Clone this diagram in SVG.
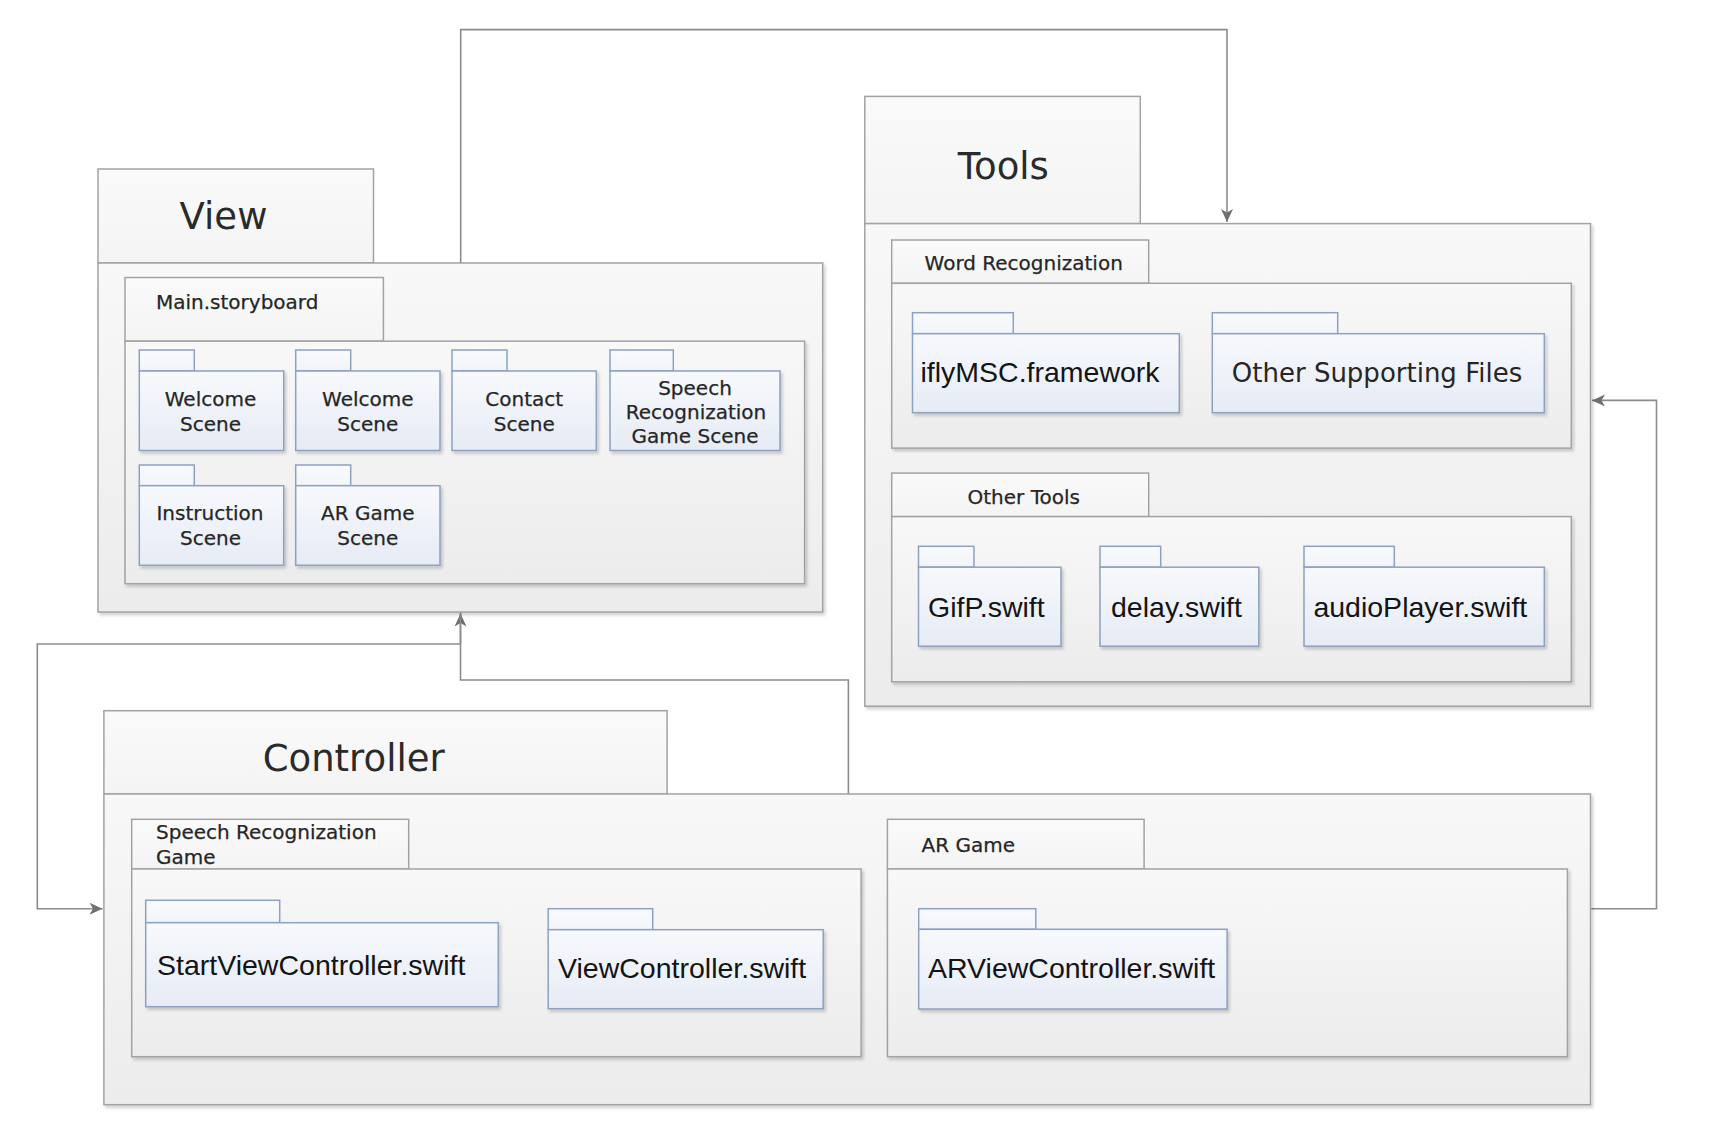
<svg xmlns="http://www.w3.org/2000/svg" width="1712" height="1142" viewBox="0 0 1712 1142">
<style>
.tab{fill:url(#gTab);stroke:#a3a3a3;stroke-width:1.5}
.body{fill:url(#gBody);stroke:#a3a3a3;stroke-width:1.5}
.ftab{fill:url(#gFileTab);stroke:#8da1c1;stroke-width:1.5}
.fbody{fill:url(#gFile);stroke:#8da1c1;stroke-width:1.5}
.title{font-family:"DejaVu Sans","Liberation Sans",sans-serif;font-size:37px;fill:#2a2a2a;text-anchor:middle}
.lbl{font-family:"DejaVu Sans","Liberation Sans",sans-serif;font-size:20px;fill:#262626;stroke:#262626;stroke-width:0.25}
.c{text-anchor:middle}
.fname{font-family:"Liberation Sans",Arial,sans-serif;font-size:28.5px;fill:#141414}
.lfname{font-family:"DejaVu Sans","Liberation Sans",sans-serif;font-size:26px;fill:#262626;text-anchor:middle}
.conn{fill:none;stroke:#8c8c8c;stroke-width:1.6}
</style>
<defs>
<linearGradient id="gBody" x1="0" y1="0" x2="0" y2="1"><stop offset="0" stop-color="#f8f8f8"/><stop offset="1" stop-color="#ececec"/></linearGradient>
<linearGradient id="gTab" x1="0" y1="0" x2="0" y2="1"><stop offset="0" stop-color="#fafafa"/><stop offset="1" stop-color="#f4f4f4"/></linearGradient>
<linearGradient id="gFile" x1="0" y1="0" x2="0" y2="1"><stop offset="0" stop-color="#f7f9fc"/><stop offset="1" stop-color="#e6ebf5"/></linearGradient>
<linearGradient id="gFileTab" x1="0" y1="0" x2="0" y2="1"><stop offset="0" stop-color="#f9fafd"/><stop offset="1" stop-color="#f1f4f9"/></linearGradient>
<filter id="sh" x="-5%" y="-5%" width="110%" height="115%"><feDropShadow dx="2" dy="2.5" stdDeviation="1.5" flood-color="#000" flood-opacity="0.18"/></filter>
<marker id="arr" markerUnits="userSpaceOnUse" markerWidth="14" markerHeight="12" refX="13" refY="6" orient="auto"><path d="M0,0 L13,6 L0,12 L3.5,6 Z" fill="#707070"/></marker>
</defs>
<rect width="1712" height="1142" fill="#fff"/>

<g id="connectors">
<path class="conn" d="M460.7,263 V29.6 H1227 V222" marker-end="url(#arr)"/>
<path class="conn" d="M1590.5,908.7 H1656.5 V400.4 H1592" marker-end="url(#arr)"/>
<path class="conn" d="M848.4,794 V680 H460.5 V613.5" marker-end="url(#arr)"/>
<path class="conn" d="M460.5,612 V644 H37.3 V908.7 H102.5" marker-end="url(#arr)"/>
</g>

<g id="view">
<rect class="tab" x="98" y="169" width="275.5" height="94"/>
<rect class="body" x="98" y="263" width="724.7" height="349" filter="url(#sh)"/>
<text class="title" x="223.5" y="229">View</text>
<g id="main-storyboard">
<rect class="tab" x="125" y="277.5" width="258.4" height="63.7"/>
<rect class="body" x="125" y="341.2" width="679.6" height="242.5" filter="url(#sh)"/>
<text class="lbl" x="156" y="309">Main.storyboard</text>
<g id="welcome-scene-1">
<rect class="ftab" x="139.3" y="350" width="55" height="21"/>
<rect class="fbody" x="139.3" y="371" width="144.4" height="79.5" filter="url(#sh)"/>
<text class="lbl c" x="210.5" y="405.5">Welcome</text><text class="lbl c" x="210.5" y="430.5">Scene</text>
</g>
<g id="welcome-scene-2">
<rect class="ftab" x="295.7" y="350" width="55" height="21"/>
<rect class="fbody" x="295.7" y="371" width="144.3" height="79.5" filter="url(#sh)"/>
<text class="lbl c" x="367.8" y="405.5">Welcome</text><text class="lbl c" x="367.8" y="430.5">Scene</text>
</g>
<g id="contact-scene">
<rect class="ftab" x="452" y="350" width="55" height="21"/>
<rect class="fbody" x="452" y="371" width="144.3" height="79.5" filter="url(#sh)"/>
<text class="lbl c" x="524.2" y="405.5">Contact</text><text class="lbl c" x="524.2" y="430.5">Scene</text>
</g>
<g id="speech-game-scene">
<rect class="ftab" x="610" y="350" width="63.3" height="21"/>
<rect class="fbody" x="610" y="371" width="170" height="79.5" filter="url(#sh)"/>
<text class="lbl c" x="695" y="395">Speech</text><text class="lbl c" x="696" y="419">Recognization</text><text class="lbl c" x="695" y="442.5">Game Scene</text>
</g>
<g id="instruction-scene">
<rect class="ftab" x="139.3" y="465" width="55" height="20.7"/>
<rect class="fbody" x="139.3" y="485.7" width="144.4" height="79.6" filter="url(#sh)"/>
<text class="lbl c" x="210" y="520">Instruction</text><text class="lbl c" x="210.5" y="544.5">Scene</text>
</g>
<g id="ar-game-scene">
<rect class="ftab" x="295.7" y="465" width="55" height="20.7"/>
<rect class="fbody" x="295.7" y="485.7" width="144.3" height="79.6" filter="url(#sh)"/>
<text class="lbl c" x="367.8" y="520">AR Game</text><text class="lbl c" x="367.8" y="544.5">Scene</text>
</g>
</g>
</g>

<g id="tools">
<rect class="tab" x="864.8" y="96.4" width="275.5" height="127.2"/>
<rect class="body" x="864.8" y="223.6" width="725.7" height="482.6" filter="url(#sh)"/>
<text class="title" x="1003.3" y="179.3">Tools</text>
<g id="word-recognization">
<rect class="tab" x="891.7" y="240" width="257" height="43.3"/>
<rect class="body" x="891.7" y="283.3" width="679.6" height="164.8" filter="url(#sh)"/>
<text class="lbl c" x="1023.7" y="269.5">Word Recognization</text>
<g id="iflymsc-framework">
<rect class="ftab" x="912.5" y="312.7" width="100.8" height="21"/>
<rect class="fbody" x="912.5" y="333.7" width="266.8" height="79" filter="url(#sh)"/>
<text class="fname" x="920.5" y="381.7">iflyMSC.framework</text>
</g>
<g id="other-supporting-files">
<rect class="ftab" x="1212.3" y="312.7" width="125.4" height="21"/>
<rect class="fbody" x="1212.3" y="333.7" width="332" height="79" filter="url(#sh)"/>
<text class="lfname" x="1377" y="381.7">Other Supporting Files</text>
</g>
</g>
<g id="other-tools">
<rect class="tab" x="891.7" y="473.1" width="257" height="43.5"/>
<rect class="body" x="891.7" y="516.6" width="679.6" height="165.2" filter="url(#sh)"/>
<text class="lbl c" x="1023.7" y="503.5">Other Tools</text>
<g id="gifp-swift">
<rect class="ftab" x="918.5" y="546.3" width="55.5" height="20.9"/>
<rect class="fbody" x="918.5" y="567.2" width="142.5" height="79" filter="url(#sh)"/>
<text class="fname" x="928" y="616.5">GifP.swift</text>
</g>
<g id="delay-swift">
<rect class="ftab" x="1100" y="546.3" width="60.7" height="20.9"/>
<rect class="fbody" x="1100" y="567.2" width="158.8" height="79" filter="url(#sh)"/>
<text class="fname" x="1111" y="616.5">delay.swift</text>
</g>
<g id="audioplayer-swift">
<rect class="ftab" x="1304" y="546.3" width="90.3" height="20.9"/>
<rect class="fbody" x="1304" y="567.2" width="240.3" height="79" filter="url(#sh)"/>
<text class="fname" x="1313.4" y="616.5">audioPlayer.swift</text>
</g>
</g>
</g>

<g id="controller">
<rect class="tab" x="103.9" y="710.7" width="563.2" height="83.3"/>
<rect class="body" x="103.9" y="794" width="1486.6" height="310.7" filter="url(#sh)"/>
<text class="title" x="353.7" y="770.7">Controller</text>
<g id="speech-recognization-game">
<rect class="tab" x="131.7" y="819.3" width="277" height="49.7"/>
<rect class="body" x="131.7" y="869" width="729.4" height="187.7" filter="url(#sh)"/>
<text class="lbl" x="156" y="839">Speech Recognization</text>
<text class="lbl" x="156" y="864">Game</text>
<g id="startviewcontroller-swift">
<rect class="ftab" x="145.7" y="900.3" width="134" height="22.4"/>
<rect class="fbody" x="145.7" y="922.7" width="352.6" height="84" filter="url(#sh)"/>
<text class="fname" x="157" y="975">StartViewController.swift</text>
</g>
<g id="viewcontroller-swift">
<rect class="ftab" x="548.2" y="908.7" width="104.5" height="21"/>
<rect class="fbody" x="548.2" y="929.7" width="275" height="79" filter="url(#sh)"/>
<text class="fname" x="558" y="978">ViewController.swift</text>
</g>
</g>
<g id="ar-game">
<rect class="tab" x="887.4" y="819.3" width="256.7" height="49.7"/>
<rect class="body" x="887.4" y="869" width="680" height="187.7" filter="url(#sh)"/>
<text class="lbl" x="921.5" y="851.5">AR Game</text>
<g id="arviewcontroller-swift">
<rect class="ftab" x="918.7" y="908.7" width="117.1" height="20.6"/>
<rect class="fbody" x="918.7" y="929.3" width="308.4" height="79.7" filter="url(#sh)"/>
<text class="fname" x="928" y="978">ARViewController.swift</text>
</g>
</g>
</g>
</svg>
